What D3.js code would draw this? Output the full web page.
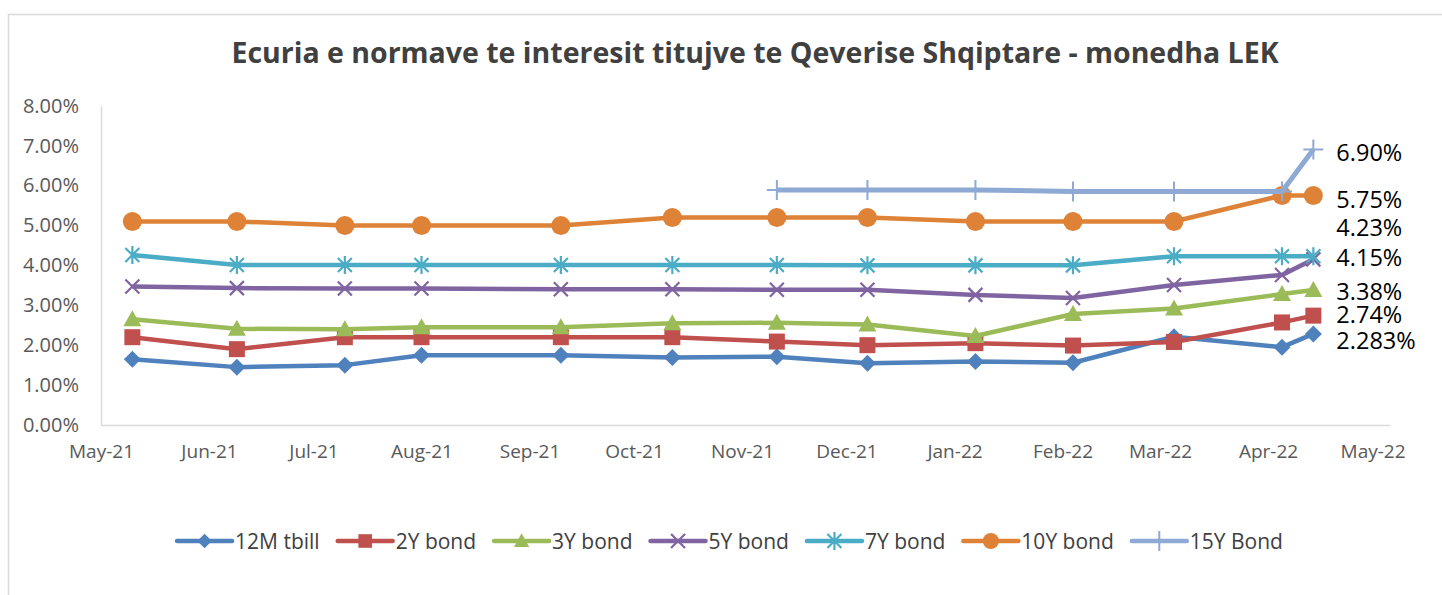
<!DOCTYPE html>
<html>
<head>
<meta charset="utf-8">
<script src="https://cdn.jsdelivr.net/npm/d3@7"></script>
<style>
  body { margin: 0; background: #fff; }
  text { font-family: "Open Sans", "Noto Sans", sans-serif; }
</style>
</head>
<body>
<div id="chart"></div>
<script>
// data (rates in %)
var dates = ["2021-05-10","2021-06-09","2021-07-10","2021-08-01","2021-09-10","2021-10-12",
             "2021-11-11","2021-12-07","2022-01-07","2022-02-04","2022-03-05","2022-04-05","2022-04-14"];
var tbill12m = [1.65, 1.45, 1.50, 1.75, 1.75, 1.69, 1.71, 1.55, 1.59, 1.56, 2.21, 1.95, 2.283];
var bond2y   = [2.20, 1.90, 2.20, 2.20, 2.20, 2.20, 2.09, 2.00, 2.05, 1.99, 2.08, 2.57, 2.74];
var bond3y   = [2.65, 2.41, 2.40, 2.45, 2.45, 2.55, 2.56, 2.52, 2.23, 2.78, 2.92, 3.28, 3.38];
var bond5y   = [3.47, 3.43, 3.42, 3.42, 3.40, 3.40, 3.39, 3.39, 3.26, 3.18, 3.51, 3.76, 4.15];
var bond7y   = [4.26, 4.01, 4.01, 4.01, 4.01, 4.01, 4.01, 4.00, 4.00, 4.00, 4.23, 4.23, 4.23];
var bond10y  = [5.10, 5.10, 5.00, 5.00, 5.00, 5.20, 5.20, 5.20, 5.10, 5.10, 5.10, 5.75, 5.75];
var bond15y  = [null, null, null, null, null, null, 5.89, 5.89, 5.89, 5.85, 5.85, 5.85, 6.90];

var seriesNames = ["12M tbill", "2Y bond", "3Y bond", "5Y bond", "7Y bond", "10Y bond", "15Y Bond"];
var endLabels = ["2.283%", "2.74%", "3.38%", "4.15%", "4.23%", "5.75%", "6.90%"];
var yTicks = [0, 1, 2, 3, 4, 5, 6, 7, 8];
var title = "Ecuria e normave te interesit titujve te Qeverise Shqiptare - monedha LEK";

var colors = ["#4F81BD", "#C0504D", "#9BBB59", "#8064A2", "#4BACC6", "#DD8236", "#8EA9D3"];
var markers = ["diamond", "square", "triangle", "x", "star", "circle", "plus"];
// vertical nudge of the end labels (Excel moved the 4.23% one up)
var labelDy = [6, -2, 1, -2, -29, 3, 2];

var W = 1442, H = 595;
var margin = {left: 101, right: 52, top: 105.7, bottom: 170};

var svg = d3.select("#chart").append("svg")
  .attr("width", W).attr("height", H);

// chart frame (cropped on the right and bottom)
svg.append("rect")
  .attr("x", 8.5).attr("y", 14.5).attr("width", 1500).attr("height", 700)
  .attr("fill", "none").attr("stroke", "#D9D9D9").attr("stroke-width", 1.5);

svg.append("text")
  .attr("x", 755).attr("y", 63)
  .attr("text-anchor", "middle")
  .attr("font-size", 28.5).attr("font-weight", "bold")
  .attr("fill", "#404040")
  .text(title);

var parse = d3.timeParse("%Y-%m-%d");
var x = d3.scaleTime()
  .domain([parse("2021-05-01"), parse("2022-05-06")])
  .range([margin.left, W - margin.right]);
var y = d3.scaleLinear()
  .domain([0, 8])
  .range([H - margin.bottom, margin.top]);

// axes
var xAxis = svg.append("g")
  .attr("transform", "translate(0," + (H - margin.bottom) + ")")
  .call(d3.axisBottom(x)
    .ticks(d3.timeMonth.every(1))
    .tickFormat(d3.timeFormat("%b-%y"))
    .tickSize(0).tickPadding(20));
xAxis.select(".domain").attr("stroke", "#D9D9D9").attr("stroke-width", 1.5);
xAxis.selectAll("text").attr("font-size", 19).attr("fill", "#595959").attr("font-family", null);

var yAxis = svg.append("g")
  .attr("transform", "translate(" + margin.left + ",0)")
  .call(d3.axisLeft(y)
    .tickValues(yTicks)
    .tickFormat(function(d) { return d.toFixed(2) + "%"; })
    .tickSize(0).tickPadding(22));
yAxis.select(".domain").attr("stroke", "#D9D9D9").attr("stroke-width", 1.5);
yAxis.selectAll("text").attr("font-size", 20).attr("fill", "#595959").attr("font-family", null);

// marker shapes drawn around 0,0
function drawMarker(g, type, color, s) {
  s = s || 1;
  if (type === "diamond") {
    g.append("path").attr("d", "M0," + (-8.5*s) + "L" + (8.5*s) + ",0L0," + (8.5*s) + "L" + (-8.5*s) + ",0Z").attr("fill", color);
  } else if (type === "square") {
    g.append("rect").attr("x", -8*s).attr("y", -8*s).attr("width", 16*s).attr("height", 16*s).attr("fill", color);
  } else if (type === "triangle") {
    g.append("path").attr("d", "M0," + (-9*s) + "L" + (9*s) + "," + (7*s) + "L" + (-9*s) + "," + (7*s) + "Z").attr("fill", color);
  } else if (type === "x") {
    g.append("path").attr("d", "M-7,-7L7,7M-7,7L7,-7").attr("stroke", color).attr("stroke-width", 2.2);
  } else if (type === "star") {
    g.append("path").attr("d", "M-7,-7L7,7M-7,7L7,-7M0,-9L0,9").attr("stroke", color).attr("stroke-width", 2.2);
  } else if (type === "circle") {
    g.append("circle").attr("r", 9.5*s).attr("fill", color);
  } else if (type === "plus") {
    g.append("path").attr("d", "M0,-10L0,10M-10,0L10,0").attr("stroke", color).attr("stroke-width", 2);
  }
}

var allSeries = [tbill12m, bond2y, bond3y, bond5y, bond7y, bond10y, bond15y];
var line = d3.line()
  .defined(function(d) { return d.v != null; })
  .x(function(d) { return x(d.date); })
  .y(function(d) { return y(d.v); });

allSeries.forEach(function(vals, i) {
  var pts = vals.map(function(v, j) { return {date: parse(dates[j]), v: v}; });
  var g = svg.append("g");
  g.append("path")
    .datum(pts)
    .attr("d", line)
    .attr("fill", "none")
    .attr("stroke", colors[i])
    .attr("stroke-width", i === 6 ? 5 : 4.5)
    .attr("stroke-linejoin", "round");
  pts.filter(function(d) { return d.v != null; }).forEach(function(d) {
    var m = g.append("g").attr("transform", "translate(" + x(d.date) + "," + y(d.v) + ")");
    drawMarker(m, markers[i], colors[i]);
  });
  var last = pts[pts.length - 1];
  svg.append("text")
    .attr("x", x(last.date) + 23)
    .attr("y", y(last.v) + labelDy[i])
    .attr("dominant-baseline", "central")
    .attr("font-size", 23.5)
    .attr("fill", "#000")
    .text(endLabels[i]);
});

// legend
var legend = svg.append("g").attr("transform", "translate(0,541)");
var lx = 0;
seriesNames.forEach(function(name, i) {
  var item = legend.append("g").attr("transform", "translate(" + lx + ",0)");
  item.append("line").attr("x1", 0).attr("x2", 55).attr("y1", 0).attr("y2", 0)
    .attr("stroke", colors[i]).attr("stroke-width", 4.5).attr("stroke-linecap", "round");
  var m = item.append("g").attr("transform", "translate(27.5,0)");
  drawMarker(m, markers[i], colors[i], i === 5 ? 0.85 : 0.85);
  var t = item.append("text").attr("x", 58).attr("y", 0)
    .attr("dominant-baseline", "central")
    .attr("font-size", 21).attr("fill", "#404040")
    .text(name);
  lx += 58 + t.node().getComputedTextLength() + 18;
});
var legendW = lx - 18;
legend.attr("transform", "translate(" + (730 - legendW / 2) + ",541)");
</script>
</body>
</html>
